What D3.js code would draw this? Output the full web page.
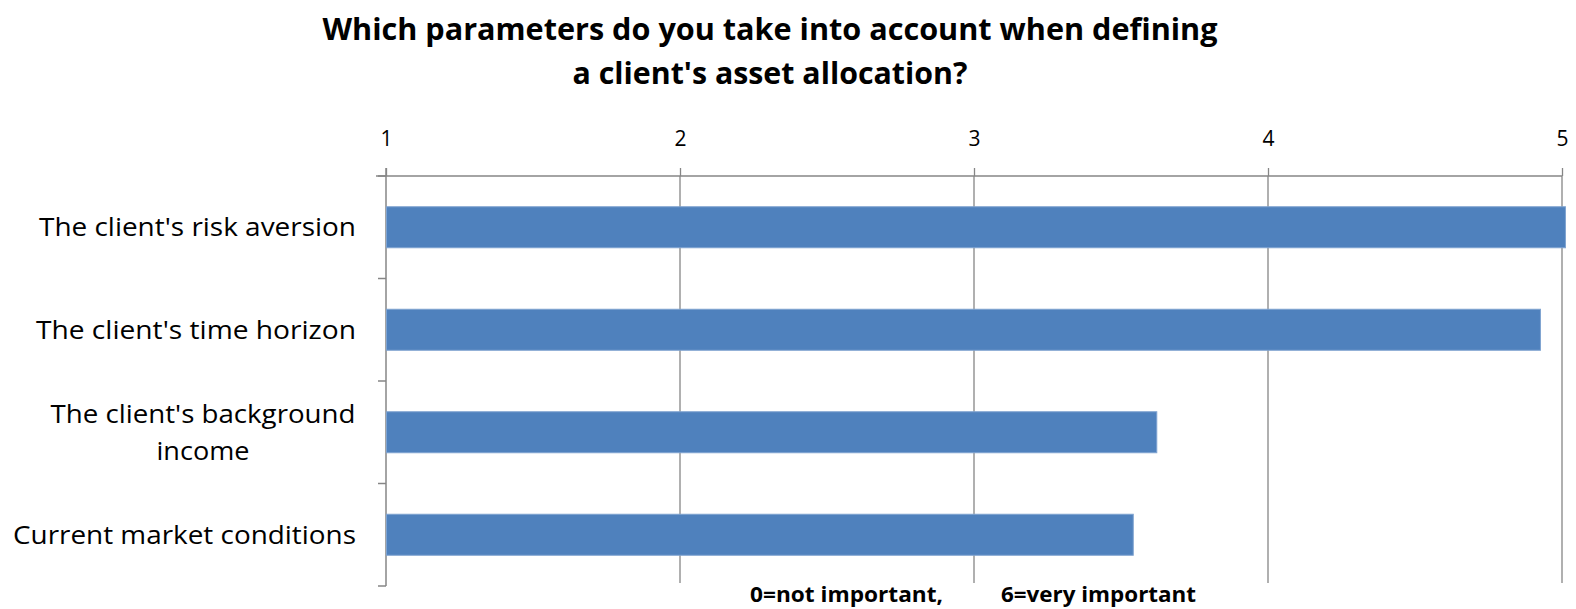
<!DOCTYPE html>
<html><head><meta charset="utf-8">
<script src="https://cdn.jsdelivr.net/npm/d3@7"></script>
<style>body{margin:0;background:#fff;} text{font-family:"Liberation Sans Narrow","Open Sans",Arial,sans-serif;fill:#000;}</style>
</head><body>
<svg id="c" width="1576" height="609"></svg>
<script>
const categories = ["The client's risk aversion", "The client's time horizon", "The client's background income", "Current market conditions"];
const categoryLines = [["The client's risk aversion"], ["The client's time horizon"], ["The client's background", "income"], ["Current market conditions"]];
const values = [5.01, 4.925, 3.62, 3.54];
const tickValues = [1, 2, 3, 4, 5];
const titleLines = ["Which parameters do you take into account when defining", "a client's asset allocation?"];
const footnote = ["0=not important,", "6=very important"];

(function(){
const svg = d3.select("#c");
const pL = 386, pR = 1562, pT = 176, pB = 586;
const x = d3.scaleLinear().domain([1, 5]).range([pL, pR]);
const y = d3.scaleBand().domain(categories).range([pT, pB]).paddingInner(0.6).paddingOuter(0.3);
const grid = "#868686";

function fit(sel, w){ sel.attr("textLength", w).attr("lengthAdjust", "spacingAndGlyphs"); }

// title
const tw = [895, 395];
titleLines.forEach((t, i) => {
  svg.append("text").attr("x", 770).attr("y", 40 + i * 44).attr("text-anchor", "middle")
    .attr("font-size", 30).attr("font-weight", "bold").text(t).call(fit, tw[i]);
});

// gridlines
svg.append("g").selectAll("line").data(tickValues.slice(1)).join("line")
  .attr("x1", d => x(d)).attr("x2", d => x(d)).attr("y1", pT).attr("y2", pB - 3)
  .attr("stroke", grid).attr("stroke-width", 1.3);

// top axis
const xAxis = d3.axisTop(x).tickValues(tickValues).tickSize(8).tickFormat(d3.format("d"));
const gx = svg.append("g").attr("transform", `translate(0,${pT})`).call(xAxis);
gx.select(".domain").attr("stroke", grid).attr("stroke-width", 1.5).attr("d", `M${pL-10},0H${pR}`);
gx.selectAll(".tick line").attr("stroke", grid).attr("stroke-width", 1.3);
gx.selectAll(".tick text").attr("font-size", 21).attr("dy", "-0.55em").attr("y", -18)
  .attr("font-family", '"Liberation Sans Narrow","Open Sans",Arial,sans-serif').attr("fill", "#000");

// left axis with ticks at band boundaries
const bounds = d3.range(categories.length + 1).map(i => pT + i * (pB - pT) / categories.length);
svg.append("line").attr("x1", pL).attr("x2", pL).attr("y1", pT - 8).attr("y2", pB)
  .attr("stroke", grid).attr("stroke-width", 1.5);
svg.append("g").selectAll("line").data(bounds).join("line")
  .attr("x1", pL - 8).attr("x2", pL).attr("y1", d => d).attr("y2", d => d)
  .attr("stroke", grid).attr("stroke-width", 1.5);

// bars
svg.append("g").selectAll("rect").data(categories).join("rect")
  .attr("x", x(1) + 0.5).attr("y", d => y(d))
  .attr("width", (d, i) => x(values[i]) - x(1))
  .attr("height", y.bandwidth())
  .attr("fill", "#4F81BD").attr("stroke", "#7FA3D0").attr("stroke-width", 1);

// category labels
const labW = [[317], [320], [305, 93], [343]];
categoryLines.forEach((lines, i) => {
  const cy = y(categories[i]) + y.bandwidth() / 2;
  if (lines.length === 1) {
    svg.append("text").attr("x", 356).attr("y", cy).attr("dy", "0.35em").attr("text-anchor", "end")
      .attr("font-size", 25).text(lines[0]).call(fit, labW[i][0]);
  } else {
    lines.forEach((l, j) => {
      svg.append("text").attr("x", 203).attr("y", cy + (j - 0.5) * 37).attr("dy", "0.35em")
        .attr("text-anchor", "middle").attr("font-size", 25).text(l).call(fit, labW[i][j]);
    });
  }
});

// footnote
svg.append("text").attr("x", 750).attr("y", 602).attr("font-size", 21).attr("font-weight", "bold").text(footnote[0]).call(fit, 193);
svg.append("text").attr("x", 1001).attr("y", 602).attr("font-size", 21).attr("font-weight", "bold").text(footnote[1]).call(fit, 195);
})();
</script>
</body></html>
